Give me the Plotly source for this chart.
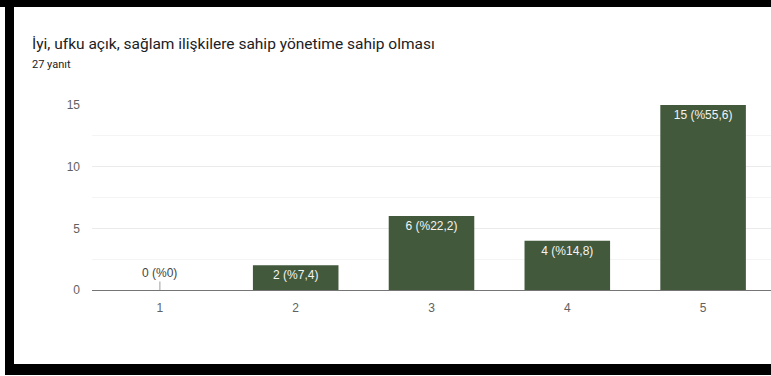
import plotly.graph_objects as go

# ---- data ----
categories = ["1", "2", "3", "4", "5"]
counts = [0, 2, 6, 4, 15]
total_responses = 27
y_ticks = [0, 5, 10, 15]
title_text = "İyi, ufku açık, sağlam ilişkilere sahip yönetime sahip olması"
subtitle_text = f"{total_responses} yanıt"

def pct_label(c):
    p = round(c / total_responses * 100, 1)
    s = f"{p:.1f}".replace(".", ",")
    if s.endswith(",0"):
        s = s[:-2]
    return f"{c} (%{s})"

labels = [pct_label(c) for c in counts]

# ---- geometry (pixels) ----
W, H = 771, 376
L, R, T, B = 92, 0, 105, 86
PW = W - L - R
PH = H - T - B

def px(x):
    return (x - L) / PW

def py(y):
    return (H - B - y) / PH

BAR_COLOR = "#42593b"
TEXT_GRAY = "#616161"
TITLE_FONT = "Roboto, Arial, sans-serif"
CHART_FONT = "Arial, 'Liberation Sans', sans-serif"

fig = go.Figure()
fig.add_trace(go.Bar(
    x=categories,
    y=counts,
    marker=dict(color=BAR_COLOR, line=dict(width=0)),
    text=[lab if c > 0 else "" for lab, c in zip(labels, counts)],
    textposition="inside",
    insidetextanchor="end",
    textangle=0,
    textfont=dict(color="#f4f4f4", size=12, family=CHART_FONT),
    constraintext="none",
    hoverinfo="skip",
))

annotations = []
for i, (c, lab) in enumerate(zip(counts, labels)):
    if c == 0:
        annotations.append(dict(
            x=i, y=c, xref="x", yref="y", text=lab,
            showarrow=True, arrowhead=0, arrowwidth=1, arrowcolor="#9e9e9e",
            ax=0, ay=-17, standoff=0, startstandoff=0,
            font=dict(size=12, color="#444", family=CHART_FONT),
        ))

annotations.append(dict(
    x=px(30), y=py(44), xref="paper", yref="paper", xanchor="left", yanchor="middle",
    text=title_text, showarrow=False,
    font=dict(size=15.5, color="#202124", family=TITLE_FONT),
))
annotations.append(dict(
    x=px(30), y=py(64), xref="paper", yref="paper", xanchor="left", yanchor="middle",
    text=subtitle_text, showarrow=False,
    font=dict(size=11, color="#202124", family=TITLE_FONT),
))

shapes = [
    # black photo border
    dict(type="rect", xref="paper", yref="paper", x0=px(0), x1=px(W), y0=py(0), y1=py(7),
         fillcolor="black", line=dict(width=0), layer="above"),
    dict(type="rect", xref="paper", yref="paper", x0=px(5), x1=px(14), y0=py(0), y1=py(374),
         fillcolor="black", line=dict(width=0), layer="above"),
    dict(type="rect", xref="paper", yref="paper", x0=px(5), x1=px(W), y0=py(364), y1=py(375),
         fillcolor="black", line=dict(width=0), layer="above"),
]

fig.update_layout(
    width=W, height=H,
    margin=dict(l=L, r=R, t=T, b=B),
    paper_bgcolor="white", plot_bgcolor="white",
    showlegend=False,
    bargap=0.37,
    annotations=annotations,
    shapes=shapes,
    font=dict(family=CHART_FONT, color=TEXT_GRAY, size=12),
    xaxis=dict(
        type="category", showgrid=False, showline=True, linecolor="#757575", linewidth=1,
        ticks="", tickfont=dict(size=12, color=TEXT_GRAY), zeroline=False,
        ticklabelstandoff=7,
    ),
    yaxis=dict(
        range=[0, 15], tickvals=y_ticks, showgrid=True, gridcolor="#ebebeb", gridwidth=1,
        zeroline=False, showline=False, ticks="", ticklabelstandoff=11,
        tickfont=dict(size=12, color=TEXT_GRAY),
        minor=dict(dtick=2.5, showgrid=True, gridcolor="#f4f4f4", gridwidth=1),
    ),
)

fig.write_html(
    "out.html",
    config={"displayModeBar": False},
    post_script="document.body.style.margin='0';document.body.style.overflow='hidden';",
)
